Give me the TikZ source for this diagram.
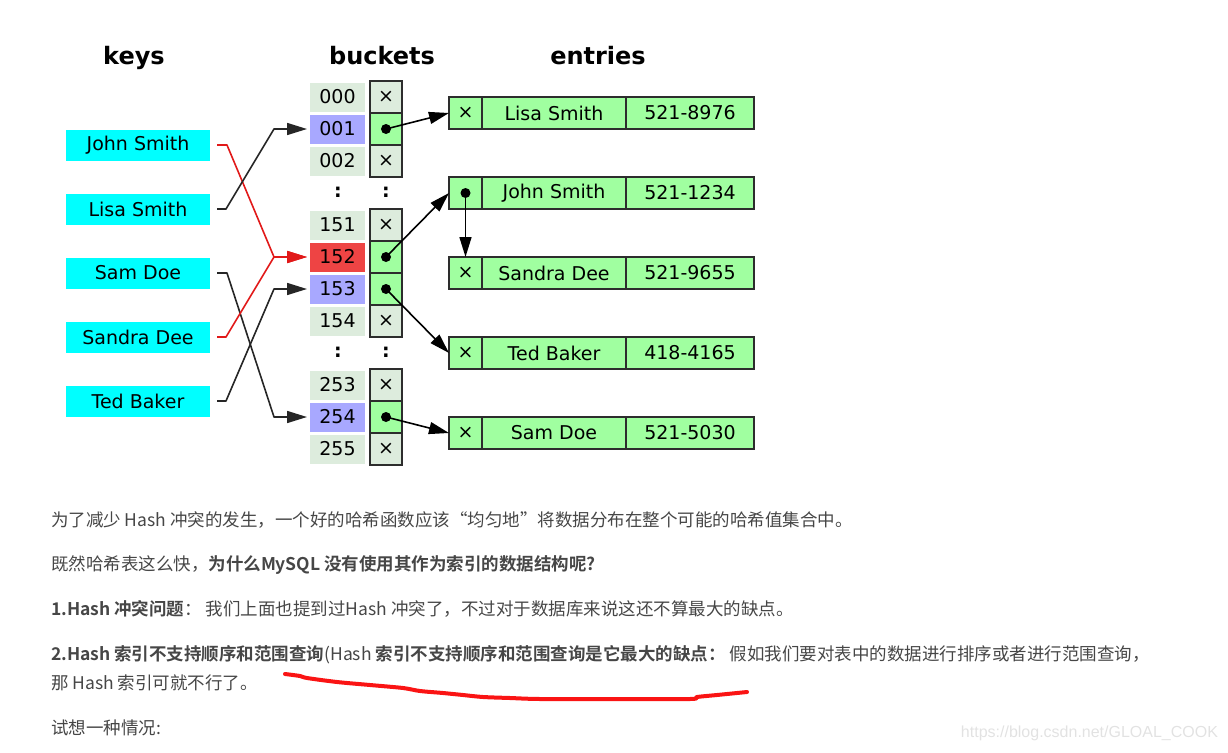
\documentclass[tikz,border=0pt]{standalone}
\usepackage{fontspec}
\usetikzlibrary{arrows.meta,positioning,calc}
\newfontfamily\dejavu{DejaVu Sans}
\newfontfamily\cjk{Noto Sans CJK SC}[BoldFont={Noto Sans CJK SC Bold}]
\newfontfamily\wmfont{Liberation Sans}
\definecolor{keycyan}{RGB}{0,255,255}
\definecolor{idxgreen}{RGB}{221,236,221}
\definecolor{idxblue}{RGB}{168,168,255}
\definecolor{idxred}{RGB}{238,68,68}
\definecolor{slotgreen}{RGB}{160,255,160}
\definecolor{boxline}{RGB}{45,45,45}
\definecolor{linkred}{RGB}{225,25,25}
\definecolor{textgray}{RGB}{70,70,70}
\definecolor{penred}{RGB}{250,20,20}
\definecolor{wmgray}{RGB}{226,226,226}

\begin{document}
\begin{tikzpicture}[x=1pt, y=-1pt, >={Triangle[length=20pt,width=12pt]},
    every node/.style={font=\dejavu\fontsize{19}{23}\selectfont, inner sep=0pt, outer sep=0pt},
    heading/.style={anchor=base, font=\dejavu\bfseries\fontsize{24}{28}\selectfont},
    keybox/.style={fill=keycyan, minimum width=144pt, minimum height=31pt},
    idxcell/.style={fill=idxgreen, minimum width=55pt, minimum height=29pt},
    slotcell/.style={draw=boxline, line width=1.8pt, fill=idxgreen, minimum width=32pt, minimum height=32pt},
    entrycell/.style={draw=boxline, line width=1.8pt, fill=slotgreen, minimum height=32pt},
    keylink/.style={->, line width=1.6pt, black!85, line join=round},
    link/.style={->, line width=1.6pt, black},
    para/.style={anchor=west, text=textgray, font=\cjk\fontsize{17.5}{21}\selectfont}]
  \useasboundingbox (0,0) rectangle (1228,752);
  % headings
  \node[heading] (hkeys) at (134,65) {keys};
  \node[heading] (hbuckets) at (382,65) {buckets};
  \node[heading] (hentries) at (598,65) {entries};
  % keys
  \node[keybox] (kjohn) at (138,145) {John Smith};
  \node[keybox] (klisa) at (138,209) {Lisa Smith};
  \node[keybox] (ksam) at (138,273) {Sam Doe};
  \node[keybox] (ksandra) at (138,337) {Sandra Dee};
  \node[keybox] (kted) at (138,401) {Ted Baker};
  % bucket indices
  \node[idxcell] (i000) at (337.5,97) {000};
  \node[idxcell, fill=idxblue] (i001) at (337.5,129) {001};
  \node[idxcell] (i002) at (337.5,161) {002};
  \node[idxcell] (i151) at (337.5,225) {151};
  \node[idxcell, fill=idxred] (i152) at (337.5,257) {152};
  \node[idxcell, fill=idxblue] (i153) at (337.5,289) {153};
  \node[idxcell] (i154) at (337.5,321) {154};
  \node[idxcell] (i253) at (337.5,385) {253};
  \node[idxcell, fill=idxblue] (i254) at (337.5,417) {254};
  \node[idxcell] (i255) at (337.5,449) {255};
  % bucket slots
  \node[slotcell] (s000) at (386,97) {×};
  \node[slotcell, fill=slotgreen] (s001) at (386,129) {};
  \node[slotcell] (s002) at (386,161) {×};
  \node[slotcell] (s151) at (386,225) {×};
  \node[slotcell, fill=slotgreen] (s152) at (386,257) {};
  \node[slotcell, fill=slotgreen] (s153) at (386,289) {};
  \node[slotcell] (s154) at (386,321) {×};
  \node[slotcell] (s253) at (386,385) {×};
  \node[slotcell, fill=slotgreen] (s254) at (386,417) {};
  \node[slotcell] (s255) at (386,449) {×};
  \fill (s001.center) circle (5pt);
  \fill (s152.center) circle (5pt);
  \fill (s153.center) circle (5pt);
  \fill (s254.center) circle (5pt);
  % skipped rows
  \node (c1) at (338,192) {\bfseries :};
  \node (c2) at (386,192) {\bfseries :};
  \node (c3) at (338,352) {\bfseries :};
  \node (c4) at (386,352) {\bfseries :};
  % entries
  \node[entrycell, minimum width=33pt] (lptr) at (465.5,113) {×};
  \node[entrycell, minimum width=144pt, right=0pt of lptr] (lname) {Lisa Smith};
  \node[entrycell, minimum width=128pt, right=0pt of lname] (lnum) {521-8976};
  \node[entrycell, minimum width=33pt] (jptr) at (465.5,193) {};
  \node[entrycell, minimum width=144pt, right=0pt of jptr] (jname) {John Smith};
  \node[entrycell, minimum width=128pt, right=0pt of jname] (jnum) {521-1234};
  \node[entrycell, minimum width=33pt] (sdptr) at (465.5,273) {×};
  \node[entrycell, minimum width=144pt, right=0pt of sdptr] (sdname) {Sandra Dee};
  \node[entrycell, minimum width=128pt, right=0pt of sdname] (sdnum) {521-9655};
  \node[entrycell, minimum width=33pt] (tptr) at (465.5,353) {×};
  \node[entrycell, minimum width=144pt, right=0pt of tptr] (tname) {Ted Baker};
  \node[entrycell, minimum width=128pt, right=0pt of tname] (tnum) {418-4165};
  \node[entrycell, minimum width=33pt] (sptr) at (465.5,433) {×};
  \node[entrycell, minimum width=144pt, right=0pt of sptr] (sname) {Sam Doe};
  \node[entrycell, minimum width=128pt, right=0pt of sname] (snum) {521-5030};
  \fill (jptr.center) circle (5pt);
  % hash function links
  \draw[keylink, linkred] ([xshift=7pt]kjohn.east) -- ++(10,0) -- ([xshift=-36pt]i152.west) -- ([xshift=-3pt]i152.west);
  \draw[keylink] ([xshift=7pt]klisa.east) -- ++(9,0) -- ([xshift=-36pt]i001.west) -- ([xshift=-3pt]i001.west);
  \draw[keylink] ([xshift=7pt]ksam.east) -- ++(10,0) -- ([xshift=-36pt]i254.west) -- ([xshift=-3pt]i254.west);
  \draw[keylink, linkred] ([xshift=7pt]ksandra.east) -- ++(9,0) -- ([xshift=-36pt]i152.west) -- ([xshift=-3pt]i152.west);
  \draw[keylink] ([xshift=7pt]kted.east) -- ++(9,0) -- ([xshift=-36pt]i153.west) -- ([xshift=-3pt]i153.west);
  % bucket pointers
  \draw[link] (s001.center) -- (lptr.west);
  \draw[link] (s152.center) -- (jptr.west);
  \draw[link] (s153.center) -- (tptr.west);
  \draw[link] (s254.center) -- (sptr.west);
  \draw[link] (jptr.center) -- (sdptr.north);
  % article text
  \node[para] (p1) at (51,520) {为了减少 Hash 冲突的发生，一个好的哈希函数应该“均匀地”将数据分布在整个可能的哈希值集合中。};
  \node[para] (p2) at (51,565) {既然哈希表这么快，\textbf{为什么MySQL 没有使用其作为索引的数据结构呢?}};
  \node[para] (p3) at (51,609) {\textbf{1.Hash 冲突问题}： 我们上面也提到过Hash 冲突了，不过对于数据库来说这还不算最大的缺点。};
  \node[para] (p4) at (51,655) {\textbf{2.Hash 索引不支持顺序和范围查询}(Hash \textbf{索引不支持顺序和范围查询是它最大的缺点：} 假如我们要对表中的数据进行排序或者进行范围查询，};
  \node[para] (p5) at (51,683) {那 Hash 索引可就不行了。};
  \node[para] (p6) at (51,728) {试想一种情况:};
  % hand-drawn underline
  \draw[penred, line width=4pt, line cap=round, line join=round] plot[smooth] coordinates {(285,674) (300,676) (307,678) (337,682) (370,685) (403,688) (420,691) (443,693) (463,695) (483,697) (510,698) (540,699) (610,699) (690,699) (697,697) (717,695) (737,693) (747,692)};
  % watermark
  \node[anchor=east, text=wmgray, font=\wmfont\fontsize{16}{19}\selectfont] (wm) at (1218,733) {https://blog.csdn.net/GLOAL\_COOK};
\end{tikzpicture}
\end{document}
